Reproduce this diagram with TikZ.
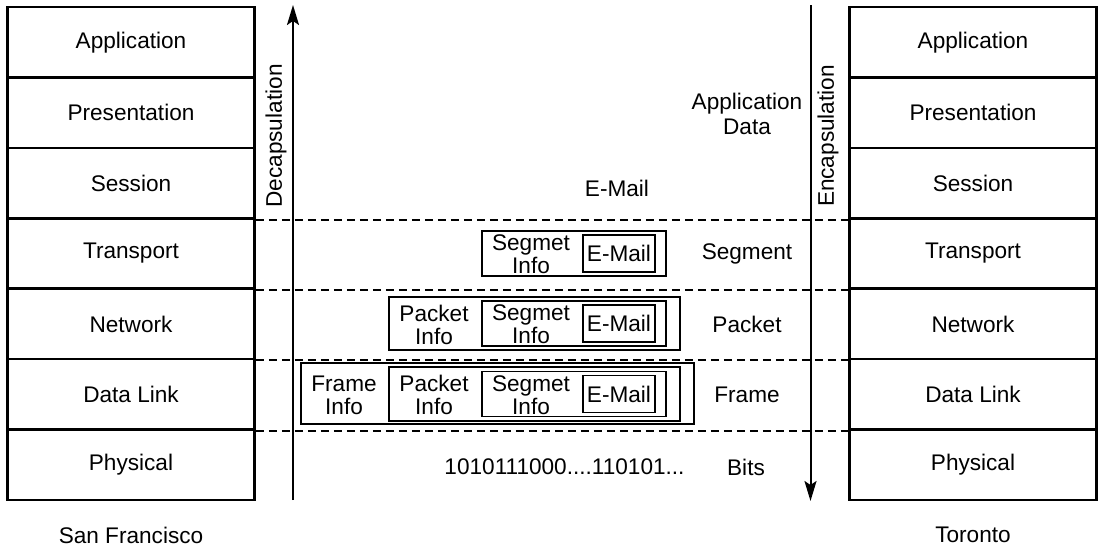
\documentclass[tikz,border=0pt]{standalone}
\usepackage{fontspec}
\setmainfont{Liberation Sans}
\usetikzlibrary{arrows.meta,positioning}

\begin{document}
\begin{tikzpicture}[x=1pt,y=-1pt,
		font=\fontsize{22.6}{25}\selectfont,
		layer/.style={draw,line width=2.6pt,minimum width=247pt,minimum height=70.43pt,inner sep=0pt},
		pdu/.style={draw,line width=1.4pt,inner sep=0pt},
		info/.style={align=center,font=\fontsize{22.6}{23}\selectfont,inner sep=0pt},
		sep/.style={line width=1.9pt,dash pattern=on 8pt off 5pt},
		flow/.style={line width=2pt,-{Stealth[length=20pt,width=12pt,inset=4pt]}}]
		\useasboundingbox (0,0) rectangle (1098,547);
		\foreach \name [count=\i] in {Application,Presentation,Session,Transport,Network,Data Link,Physical} {
			\node[layer] (L\i) at (131,{42.2+70.43*(\i-1)}) {\name};
			\node[layer] (R\i) at (973,{42.2+70.43*(\i-1)}) {\name};
		}
		\foreach \i in {3,...,6}
		\draw[sep] (L\i.south east) -- (R\i.south west);
		\coordinate (decbot) at (293,500);
		\coordinate (dectop) at (293,5);
		\coordinate (enctop) at (810.5,5);
		\coordinate (encbot) at (810.5,501);
		\draw[flow] (decbot) -- (dectop);
		\draw[flow] (enctop) -- (encbot);
		\node[rotate=90] (decap) at (276,136) {Decapsulation};
		\node[rotate=90] (encap) at (828,136) {Encapsulation};
		\node[align=center] (appdata) at (747,114) {Application\\Data};
		\node (email) at (617,188) {E-Mail};
		% frame and packet wrappers
		\node[pdu,minimum width=393pt,minimum height=61pt] (frame6) at (497.5,393.5) {};
		\foreach \r/\y/\h in {5/323.5/53,6/394/54}
		\node[pdu,minimum width=291pt,minimum height=\h pt] (packet\r) at (534.5,\y) {};
		\foreach \r/\y in {4/253.5,5/323.5,6/394} {
			\node[pdu,minimum width=184pt,minimum height=45pt] (seg\r) at (574,\y) {};
			\node[pdu,minimum width=72pt,minimum height=37pt] (mail\r) at (619,\y) {E-Mail};
			\node[info] (seginfo\r) at (531,\y+1) {Segmet\\Info};
		}
		\node[info] (pktinfo5) at (434,324.5) {Packet\\Info};
		\node[info] (pktinfo6) at (434,395) {Packet\\Info};
		\node[info] (frminfo6) at (344,395) {Frame\\Info};
		\node (segment) at (747,254) {Segment};
		\node (packet) at (747,324) {Packet};
		\node (frame) at (747,395) {Frame};
		\node (bitstr) at (564.5,467) {1010111000....110101...};
		\node (bits) at (746,467) {Bits};
		\node (sf) at (131,535) {San Francisco};
		\node (tor) at (973,535) {Toronto};
	\end{tikzpicture}
\end{document}
